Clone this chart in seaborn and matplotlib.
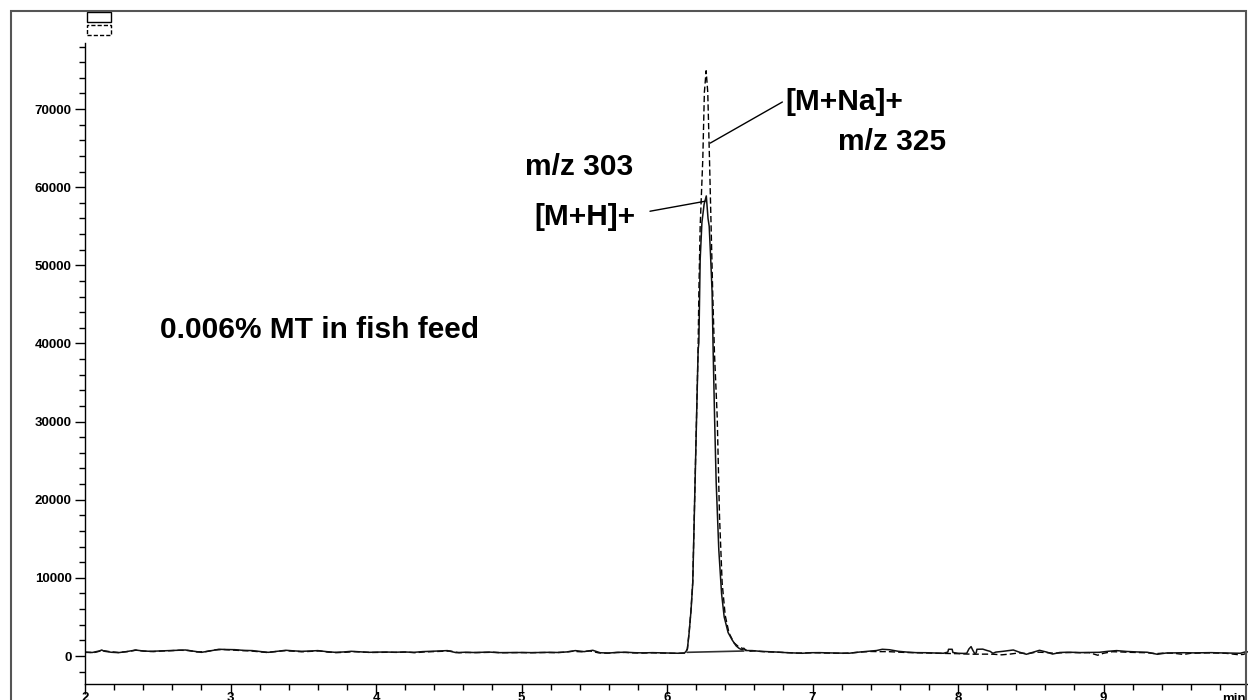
import numpy as np
import pandas as pd
import matplotlib
matplotlib.use("Agg")
import matplotlib.pyplot as plt
from matplotlib.patches import Rectangle
from matplotlib.ticker import MultipleLocator
import seaborn as sns

# --- m/z 303, [M+H]+ (solid trace): retention time (min) and intensity
t_303 = [
    2.00, 2.05, 2.10, 2.115, 2.13, 2.18, 2.23, 2.28, 2.33, 2.345, 2.40, 2.45, 2.52, 2.575,
    2.63, 2.69, 2.75, 2.80, 2.86, 2.92, 2.97, 3.03, 3.09, 3.15, 3.21, 3.26, 3.32, 3.38,
    3.44, 3.49, 3.55, 3.60, 3.66, 3.72, 3.78, 3.83, 3.89, 3.95, 4.01, 4.07, 4.13, 4.19,
    4.26, 4.32, 4.38, 4.43, 4.49, 4.55, 4.61, 4.67, 4.72, 4.78, 4.84, 4.90, 4.95, 5.01,
    5.07, 5.13, 5.19, 5.25, 5.31, 5.37, 5.43, 5.49, 5.54, 5.60, 5.66, 5.72, 5.78, 5.84,
    5.90, 5.96, 6.02, 6.08, 6.12,
    6.131, 6.140, 6.152, 6.165, 6.177, 6.193, 6.205, 6.214, 6.219, 6.228, 6.240, 6.255,
    6.270, 6.282, 6.290, 6.300, 6.310, 6.317, 6.327, 6.338, 6.356, 6.375, 6.393, 6.420,
    6.448, 6.475, 6.494, 6.517, 6.528, 6.540,
    6.586, 6.64, 6.70, 6.76, 6.82, 6.88, 6.93, 6.99, 7.05, 7.11, 7.18, 7.25, 7.32, 7.38,
    7.44, 7.48, 7.53, 7.59, 7.65, 7.71, 7.78, 7.84, 7.90, 7.93, 7.935, 7.96, 7.965, 8.00,
    8.04, 8.06, 8.075, 8.09, 8.10, 8.115, 8.125, 8.13, 8.17, 8.20, 8.22, 8.24, 8.26, 8.31,
    8.38, 8.42, 8.47, 8.52, 8.56, 8.61, 8.65, 8.70, 8.75, 8.79, 8.84, 8.90, 8.97, 9.03,
    9.09, 9.16, 9.23, 9.30, 9.37, 9.43, 9.49, 9.55, 9.62, 9.68, 9.74, 9.80, 9.87, 9.94,
    9.98, 10.00,
]
i_303 = [
    470, 450, 650, 770, 620, 480, 430, 550, 700, 770, 640, 600, 650, 690,
    720, 770, 600, 470, 650, 860, 830, 810, 720, 690, 560, 470, 600, 730,
    650, 600, 640, 690, 560, 470, 520, 600, 540, 470, 500, 510, 480, 520,
    470, 560, 600, 640, 690, 430, 480, 450, 470, 500, 430, 440, 460, 450,
    430, 450, 470, 450, 520, 690, 560, 730, 420, 380, 470, 480, 420, 400,
    430, 400, 380, 350, 380,
    600, 900, 2950, 5800, 9360, 22200, 32000, 39200, 40100, 50770, 55500, 57800,
    58880, 56000, 55000, 51000, 46540, 39200, 30500, 22200, 13590, 8000, 5000, 3000,
    2050, 1300, 1000, 770, 1000, 700,
    690, 600, 550, 500, 430, 380, 350, 420, 430, 400, 380, 350, 500, 600,
    700, 860, 800, 600, 500, 430, 420, 380, 350, 500, 860, 860, 450, 350,
    330, 350, 900, 1200, 800, 300, 400, 860, 880, 700, 600, 350, 500, 600,
    770, 500, 220, 500, 730, 500, 250, 450, 480, 470, 440, 460, 470, 600,
    690, 580, 520, 480, 220, 380, 400, 420, 400, 420, 430, 400, 380, 350,
    550, 500,
]

# --- m/z 325, [M+Na]+ (dashed trace)
t_325 = [
    2.00, 2.06, 2.12, 2.17, 2.23, 2.29, 2.35, 2.41, 2.47, 2.53, 2.59, 2.65, 2.71, 2.77,
    2.83, 2.89, 2.95, 3.01, 3.07, 3.13, 3.19, 3.25, 3.31, 3.37, 3.43, 3.49, 3.55, 3.61,
    3.67, 3.73, 3.79, 3.85, 3.91, 3.97, 4.03, 4.09, 4.15, 4.21, 4.27, 4.33, 4.39, 4.45,
    4.51, 4.57, 4.63, 4.69, 4.75, 4.81, 4.87, 4.93, 4.99, 5.05, 5.11, 5.17, 5.23, 5.29,
    5.35, 5.41, 5.47, 5.53, 5.59, 5.65, 5.71, 5.77, 5.83, 5.89, 5.95, 6.01, 6.07, 6.12,
    6.130, 6.140, 6.152, 6.165, 6.177, 6.193, 6.205, 6.214, 6.219, 6.228, 6.246, 6.257,
    6.269, 6.280, 6.292, 6.303, 6.314, 6.326, 6.345, 6.361, 6.379, 6.400, 6.426, 6.460,
    6.494, 6.530, 6.560,
    6.60, 6.66, 6.72, 6.78, 6.84, 6.90, 6.96, 7.02, 7.08, 7.14, 7.21, 7.28, 7.34, 7.40,
    7.46, 7.52, 7.58, 7.64, 7.70, 7.76, 7.82, 7.88, 7.94, 8.00, 8.06, 8.12, 8.18, 8.24,
    8.30, 8.36, 8.42, 8.48, 8.54, 8.60, 8.66, 8.72, 8.78, 8.84, 8.90, 8.96, 9.00, 9.06,
    9.12, 9.18, 9.24, 9.30, 9.36, 9.42, 9.48, 9.55, 9.60, 9.66, 9.72, 9.78, 9.84, 9.92,
    9.96, 10.00,
]
i_325 = [
    500, 430, 700, 560, 450, 560, 740, 620, 560, 640, 680, 740, 700, 520,
    560, 780, 830, 760, 700, 660, 560, 450, 560, 680, 620, 540, 600, 650,
    500, 430, 480, 560, 500, 450, 470, 480, 460, 500, 420, 520, 560, 600,
    640, 420, 450, 430, 450, 480, 420, 430, 440, 420, 440, 450, 430, 480,
    600, 540, 650, 400, 360, 440, 460, 400, 380, 410, 380, 360, 340, 380,
    500, 900, 3000, 5900, 9500, 22500, 32500, 39500, 46540, 55000, 63590, 72180,
    74900, 72180, 63590, 55000, 46540, 38850, 30640, 17800, 9360, 5200, 2950, 1700,
    1150, 900, 600,
    650, 560, 520, 470, 420, 370, 400, 420, 380, 360, 340, 420, 520, 580,
    560, 560, 500, 450, 420, 400, 370, 340, 320, 300, 250, 230, 240, 230,
    150, 250, 400, 300, 500, 450, 350, 420, 450, 420, 430, 100, 350, 550,
    520, 470, 450, 420, 300, 380, 360, 200, 350, 380, 400, 380, 350, 180,
    200, 450,
]

# integration baseline under the m/z 303 peak
integ_t = [6.138, 6.528]
integ_i = [470, 640]

x_ticks = [2, 3, 4, 5, 6, 7, 8, 9]
x_tick_labels = ["2", "3", "4", "5", "6", "7", "8", "9"]
y_ticks = [0, 10000, 20000, 30000, 40000, 50000, 60000, 70000]

sns.set_style("ticks")
plt.rcParams["font.family"] = ["Liberation Sans", "DejaVu Sans"]
plt.rcParams["font.weight"] = "bold"
plt.rcParams["text.color"] = "black"
plt.rcParams["xtick.color"] = "black"
plt.rcParams["ytick.color"] = "black"
plt.rcParams["xtick.labelcolor"] = "black"
plt.rcParams["ytick.labelcolor"] = "black"

fig = plt.figure(figsize=(12.48, 7.0), dpi=100)
ax = fig.add_axes([85 / 1248, 16 / 700, 1164 / 1248, 641.3 / 700])

df303 = pd.DataFrame({"t": t_303, "i": i_303})
df325 = pd.DataFrame({"t": t_325, "i": i_325})

sns.lineplot(data=df325, x="t", y="i", ax=ax, color="black", lw=1.0,
             estimator=None, sort=True, linestyle=(0, (4.5, 2.2)))
sns.lineplot(data=df303, x="t", y="i", ax=ax, color="#111111", lw=1.1,
             estimator=None, sort=True)
ax.plot(integ_t, integ_i, color="#333333", lw=1.2)

ax.set_xlim(2, 10)
ax.set_ylim(-3583, 78490)
ax.set_xlabel("")
ax.set_ylabel("")
ax.set_xticks(x_ticks)
ax.set_xticklabels(x_tick_labels)
ax.set_yticks(y_ticks)
ax.set_yticklabels([str(v) for v in y_ticks])
ax.xaxis.set_minor_locator(MultipleLocator(0.2))
ax.yaxis.set_minor_locator(MultipleLocator(2000))
ax.tick_params(axis="both", which="major", direction="out", length=7, width=1,
               color="black", labelsize=9.5, labelcolor="black")
ax.tick_params(axis="y", which="major", pad=2.5)
ax.tick_params(axis="x", which="major", pad=-1.5)
ax.tick_params(axis="both", which="minor", direction="out", length=4, width=1,
               color="black")
for lbl in ax.get_xticklabels() + ax.get_yticklabels():
    lbl.set_fontweight("bold")

sns.despine(ax=ax, top=True, right=True)
for side in ("left", "bottom"):
    ax.spines[side].set_color("black")
    ax.spines[side].set_linewidth(1.0)

ax.annotate("min", xy=(1.0, 0), xycoords="axes fraction", xytext=(-2, -6.5),
            textcoords="offset points", ha="right", va="top", fontsize=9.5,
            fontweight="bold", color="black")

# peak labels with leader lines
label_kw = dict(fontsize=21.5, fontweight="bold", va="center", ha="left", color="black")
ax.text(5.021, 62560, "m/z 303", **label_kw)
ax.text(5.090, 56150, "[M+H]+", **label_kw)
ax.text(6.814, 70900, "[M+Na]+", **label_kw)
ax.text(7.172, 65770, "m/z 325", **label_kw)
ax.text(2.517, 41670, "0.006% MT in fish feed", **label_kw)
ax.annotate("", xy=(6.262, 58200), xytext=(5.883, 56920),
            arrowprops=dict(arrowstyle="-", lw=1.0, color="black",
                            shrinkA=0, shrinkB=0))
ax.annotate("", xy=(6.297, 65640), xytext=(6.793, 70900),
            arrowprops=dict(arrowstyle="-", lw=1.0, color="black",
                            shrinkA=0, shrinkB=0))

# trace key boxes and outer frame
fig.add_artist(Rectangle((87 / 1248, 1 - 22.3 / 700), 23.7 / 1248, 10 / 700,
                         transform=fig.transFigure, facecolor="white",
                         edgecolor="black", lw=1.0))
fig.add_artist(Rectangle((87 / 1248, 1 - 35 / 700), 23.7 / 1248, 10 / 700,
                         transform=fig.transFigure, facecolor="white",
                         edgecolor="black", lw=1.0, linestyle=(0, (3, 1.5))))
fig.add_artist(Rectangle((11 / 1248, -0.05), (1246 - 11) / 1248, 1.05 - 10.7 / 700,
                         transform=fig.transFigure, facecolor="none",
                         edgecolor="#555555", lw=1.5))

fig.savefig("out.png", dpi=100)
